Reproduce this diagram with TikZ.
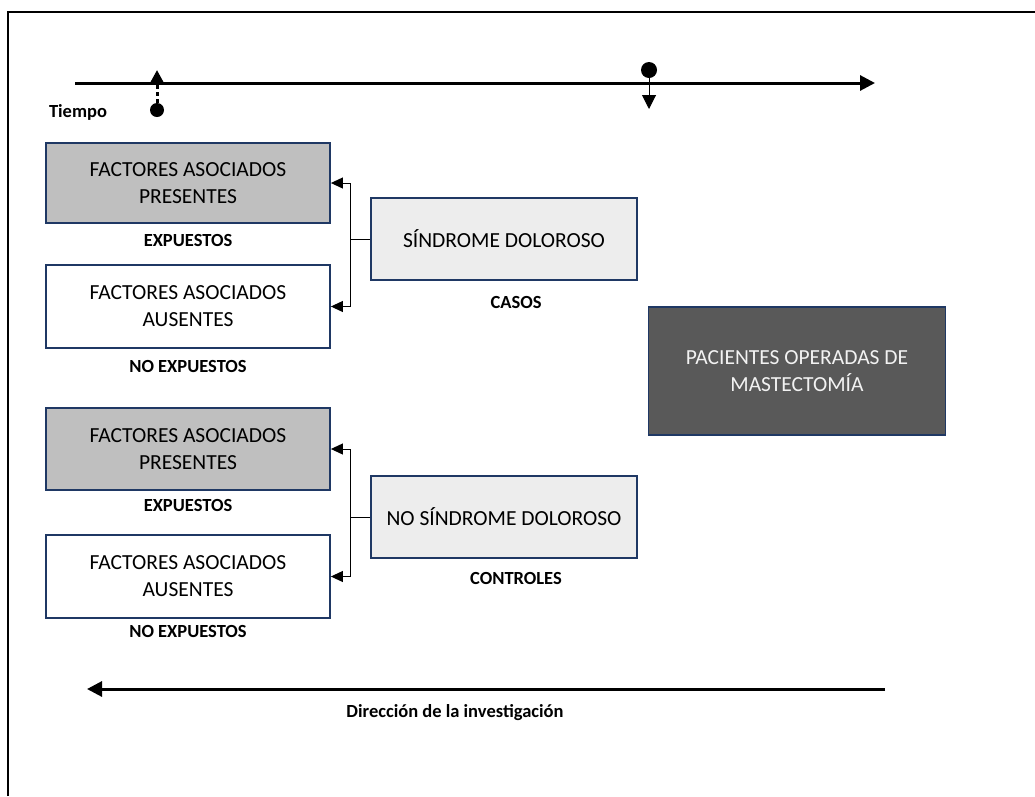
\documentclass[tikz,border=0pt]{standalone}
\usepackage{fontspec}
\setmainfont{Carlito}
\usetikzlibrary{arrows.meta}
\definecolor{navy}{HTML}{1F3864}
\definecolor{grayfill}{HTML}{BFBFBF}
\definecolor{lightfill}{HTML}{EDEDED}
\definecolor{darkfill}{HTML}{595959}
\definecolor{lighttext}{HTML}{F2F2F2}
\tikzset{
  box/.style={draw=navy, line width=1.8pt, minimum width=284pt, align=center, font=\fontsize{21.5}{27}\selectfont, inner sep=0pt},
  graybox/.style={box, fill=grayfill},
  whitebox/.style={box, fill=white},
  midbox/.style={box, fill=lightfill, minimum width=266pt, minimum height=82pt},
  darkbox/.style={box, fill=darkfill, text=lighttext, minimum width=297pt, minimum height=128pt},
  lbl/.style={font=\fontsize{18.5}{22}\selectfont\bfseries, inner sep=0pt},
  conn/.style={line width=1pt, -{Triangle[length=12pt,width=11pt]}},
  bigarrow/.style={line width=3pt, -{Triangle[length=15pt,width=15pt]}}
}
\begin{document}
\begin{tikzpicture}[x=1pt,y=-1pt]
\useasboundingbox (0,0) rectangle (1035,796);
% frame
\draw[line width=2pt] (8,796) -- (8,11.5) -- (1035,11.5);
% timeline
\coordinate (tl0) at (75,83);
\coordinate (tl1) at (875,83);
\draw[bigarrow] (tl0) -- (tl1);
\node (tiempo) [lbl] at (78,112) {Tiempo};
% dashed marker
\node (dot1) [circle, fill=black, inner sep=0pt, minimum size=14pt] at (157,110) {};
\coordinate (up1) at (157,70);
\draw[line width=3pt, dash pattern=on 4pt off 3pt, -{Triangle[length=12pt,width=12pt]}] (dot1.north) -- (up1);
% right marker
\node (dot2) [circle, fill=black, inner sep=0pt, minimum size=16pt] at (649,70) {};
\coordinate (dn2) at (649,109);
\draw[line width=1pt, -{Triangle[length=14pt,width=14pt]}] (dot2.center) -- (dn2);
% left boxes
\node (b1) [graybox, minimum height=80pt] at (188,183) {FACTORES ASOCIADOS\\PRESENTES};
\node (l1) [lbl] at (188,240) {EXPUESTOS};
\node (b2) [whitebox, minimum height=83pt] at (188,306.5) {FACTORES ASOCIADOS\\AUSENTES};
\node (l2) [lbl] at (188,366) {NO EXPUESTOS};
\node (b3) [graybox, minimum height=82pt] at (188,449) {FACTORES ASOCIADOS\\PRESENTES};
\node (l3) [lbl] at (188,505) {EXPUESTOS};
\node (b4) [whitebox, minimum height=83pt] at (188,576.5) {FACTORES ASOCIADOS\\AUSENTES};
\node (l4) [lbl] at (188,631) {NO EXPUESTOS};
% middle boxes
\node (s1) [midbox] at (504,239) {SÍNDROME DOLOROSO};
\node (c1) [lbl] at (516,302) {CASOS};
\node (s2) [midbox] at (504,517) {NO SÍNDROME DOLOROSO};
\node (c2) [lbl] at (516,578) {CONTROLES};
% dark box
\node (p) [darkbox] at (797,371) {PACIENTES OPERADAS DE\\MASTECTOMÍA};
% connectors
\coordinate (j1) at (350,239);
\draw[line width=1pt] (s1.west) -- (j1);
\draw[conn] (j1) |- (b1.east);
\draw[conn] (j1) |- (b2.east);
\coordinate (j2) at (350,517);
\draw[line width=1pt] (s2.west) -- (j2);
\draw[conn] (j2) |- (b3.east);
\draw[conn] (j2) |- (b4.east);
% bottom arrow
\coordinate (d0) at (885,689);
\coordinate (d1) at (87,689);
\draw[bigarrow] (d0) -- (d1);
\node (dir) [lbl] at (455,713) {Dirección de la investigación};
\end{tikzpicture}
\end{document}
